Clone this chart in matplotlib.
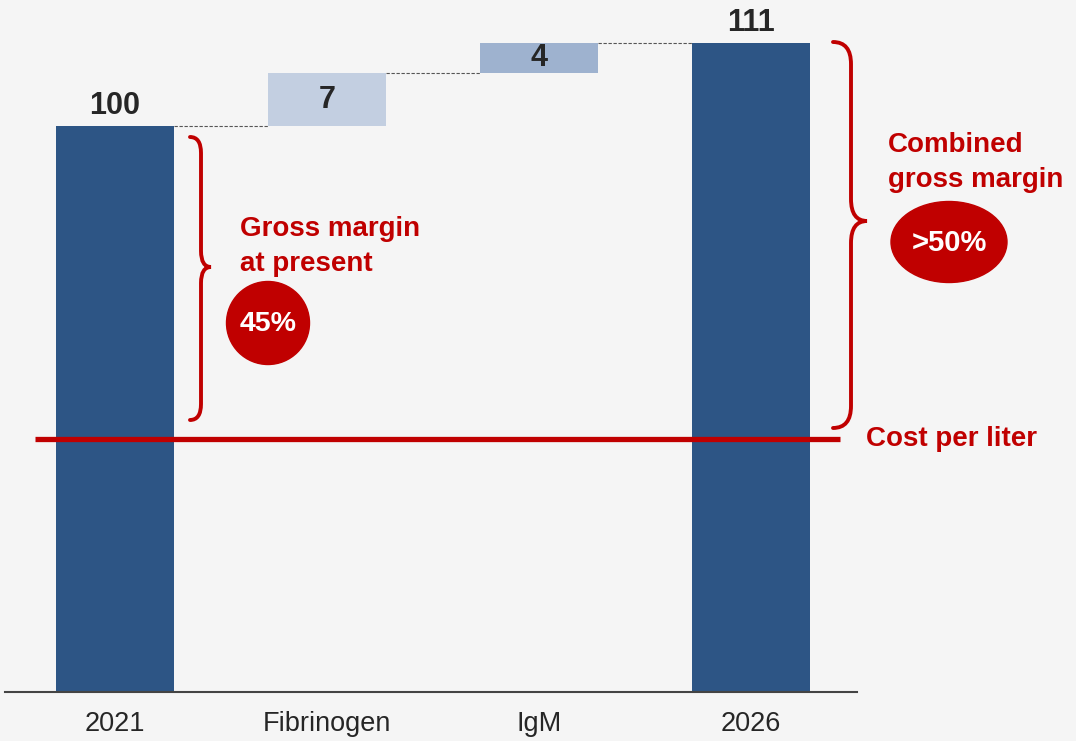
import matplotlib.pyplot as plt
from matplotlib.path import Path
from matplotlib.patches import PathPatch, Ellipse

categories = ['2021', 'Fibrinogen', 'IgM', '2026']
starts = [25, 100, 107, 25]
ends = [100, 107, 111, 111]
labels = ['100', '7', '4', '111']
cost_per_liter = 58.5

dark = '#2d5585'
colors = [dark, '#c3cfe1', '#9eb2cf', dark]
red = '#c00000'
bg = '#f5f5f5'

plt.rcParams['font.family'] = ['Liberation Sans', 'DejaVu Sans']

fig = plt.figure(figsize=(10.76, 7.41), dpi=100, facecolor=bg)
ax = fig.add_axes([5 / 1076, 1 - 692 / 741, 852 / 1076, 692 / 741])
ax.set_facecolor(bg)

x = range(len(categories))
heights = [e - s for s, e in zip(starts, ends)]
ax.bar(x, heights, bottom=starts, width=0.557, color=colors, zorder=2)

# value labels
for i in x:
    if i in (0, 3):
        ax.text(i, ends[i] + 1.6, labels[i], ha='center', va='baseline',
                fontsize=22, fontweight='bold', color='#262626')
    else:
        ax.text(i, (starts[i] + ends[i]) / 2, labels[i], ha='center', va='center',
                fontsize=22, fontweight='bold', color='#262626')

# dashed connectors
for i in range(len(categories) - 1):
    ax.plot([i + 0.2785, i + 1 - 0.2785], [ends[i], ends[i]], ls=(0, (3, 1.5)),
            lw=0.8, color='#555555', zorder=1)

# cost per liter line
ax.plot([-0.377, 3.42], [cost_per_liter, cost_per_liter], color=red, lw=3.8,
        solid_capstyle='butt', zorder=3)

ax.set_xlim(-0.519, 3.5)
ax.set_ylim(25, 116.7)
ax.set_xticks(list(x))
ax.set_xticklabels(categories, fontsize=19.5, color='#262626')
ax.tick_params(axis='x', length=0, pad=14)
ax.set_yticks([])
for s in ['top', 'right', 'left']:
    ax.spines[s].set_visible(False)
ax.spines['bottom'].set_color('#444444')
ax.spines['bottom'].set_linewidth(1.5)


def px(xp, yp):
    return (xp / 1076, 1 - yp / 741)


def brace(x0, xm, xtip, ytop, ybot, ymid, h):
    pts = [px(x0, ytop), px(xm, ytop), px(xm, ytop + h),
           px(xm, ymid - h), px(xm, ymid), px(xtip, ymid),
           px(xm, ymid), px(xm, ymid + h),
           px(xm, ybot - h), px(xm, ybot), px(x0, ybot)]
    codes = [Path.MOVETO, Path.CURVE3, Path.CURVE3,
             Path.LINETO, Path.CURVE3, Path.CURVE3,
             Path.CURVE3, Path.CURVE3,
             Path.LINETO, Path.CURVE3, Path.CURVE3]
    fig.patches.append(PathPatch(Path(pts, codes), fill=False, ec=red, lw=2.8,
                                 transform=fig.transFigure, capstyle='round'))


brace(190, 201, 211, 137, 420, 267, 16)
brace(833, 851, 867, 42, 428, 221, 22)

fig.text(*px(240, 271), 'Gross margin\nat present', color=red, fontsize=20,
         fontweight='bold', va='baseline', ha='left', linespacing=1.45)
fig.text(*px(888, 187), 'Combined\ngross margin', color=red, fontsize=20,
         fontweight='bold', va='baseline', ha='left', linespacing=1.45)
fig.text(*px(866, 439), 'Cost per liter', color=red, fontsize=20,
         fontweight='bold', va='center', ha='left')

fig.patches.append(Ellipse(px(268, 323), 83 / 1076, 83 / 741, color=red,
                           transform=fig.transFigure))
fig.text(*px(268, 324), '45%', color='white', fontsize=20.5, fontweight='bold',
         ha='center', va='center')
fig.patches.append(Ellipse(px(949, 242), 116 / 1076, 81 / 741, color=red,
                           transform=fig.transFigure))
fig.text(*px(949, 243), '>50%', color='white', fontsize=21, fontweight='bold',
         ha='center', va='center')

fig.savefig('out.png', dpi=100, facecolor=bg)
